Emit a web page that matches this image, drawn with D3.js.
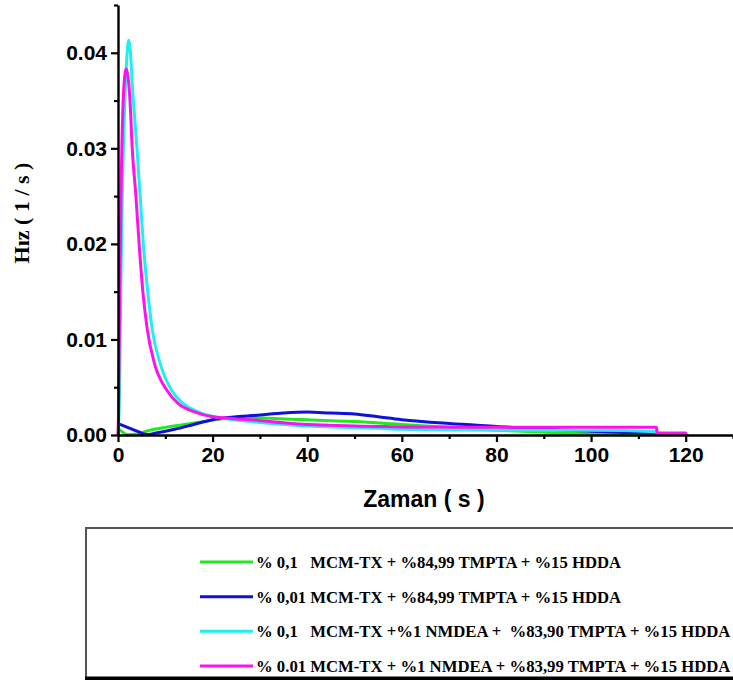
<!DOCTYPE html>
<html>
<head>
<meta charset="utf-8">
<script src="https://cdn.jsdelivr.net/npm/d3@7/dist/d3.min.js"></script>
<style>
  html, body { margin: 0; padding: 0; background: #fff; }
  svg { display: block; }
</style>
</head>
<body>
<svg id="chart" width="733" height="680"></svg>
<script>
// Time points (s) and rate values (1/s) for each formulation
const greenT = [0, 1, 2, 4, 6, 10, 14, 18, 22, 28, 34, 40, 50, 60, 70, 80, 90, 100, 110];
const greenV = [0.0007, 0.0003, 0.00003, 0.0001, 0.0004, 0.0008, 0.0011, 0.0014, 0.0017, 0.0018, 0.0017, 0.0016, 0.0014, 0.0011, 0.0008, 0.0005, 0.0003, 0.0001, 0.0];

const blueT = [0, 2, 4, 6, 8, 12, 16, 20, 25, 30, 35, 40, 45, 50, 55, 60, 70, 80, 90, 100, 110, 114];
const blueV = [0.0012, 0.0008, 0.0004, 0.00005, 0.0002, 0.0006, 0.0011, 0.0016, 0.0019, 0.0021, 0.0023, 0.0024, 0.0023, 0.0022, 0.0019, 0.0016, 0.0012, 0.0009, 0.0006, 0.0004, 0.0002, 0.0001];

const cyanT = [0, 0.3, 0.57, 0.9, 1.48, 2.3, 3.2, 4.0, 4.7, 5.4, 6.4, 7.25, 8.9, 11.3, 13.8, 17, 20.5, 28, 38, 55, 60, 80, 100, 113.8, 114];
const cyanV = [0, 0.004, 0.0145, 0.0249, 0.0353, 0.0413, 0.0353, 0.0301, 0.0249, 0.0197, 0.0145, 0.011, 0.0075, 0.0047, 0.0033, 0.0024, 0.0019, 0.0014, 0.0010, 0.0007, 0.0006, 0.0005, 0.0005, 0.00035, 0];

const magT = [0, 0.1, 0.35, 0.63, 1.12, 1.7, 2.5, 3.0, 3.8, 4.5, 5.35, 6.2, 7.7, 10.3, 12.7, 16.3, 20, 28, 38, 55, 60, 80, 100, 113.8, 114, 120, 120.2];
const magV = [0, 0.002, 0.0145, 0.0249, 0.0353, 0.0383, 0.0353, 0.0301, 0.0249, 0.0197, 0.0145, 0.011, 0.0075, 0.0047, 0.0033, 0.0024, 0.0019, 0.0016, 0.00115, 0.0009, 0.00084, 0.0008, 0.0008, 0.0008, 0.0002, 0.0002, 0];

const seriesLabels = [
  "% 0,1   MCM-TX + %84,99 TMPTA + %15 HDDA",
  "% 0,01 MCM-TX + %84,99 TMPTA + %15 HDDA",
  "% 0,1   MCM-TX +%1 NMDEA +  %83,90 TMPTA + %15 HDDA",
  "% 0.01 MCM-TX + %1 NMDEA + %83,99 TMPTA + %15 HDDA"
];
const seriesColors = ["#22e822", "#1010dd", "#22eeee", "#ff11ee"];

const xTicks = [0, 20, 40, 60, 80, 100, 120];
const yTicks = [0, 0.01, 0.02, 0.03, 0.04];
const xLabel = "Zaman ( s )";
const yLabel = "Hız ( 1 / s )";

const series = [
  { t: greenT, v: greenV },
  { t: blueT, v: blueV },
  { t: cyanT, v: cyanV },
  { t: magT, v: magV }
].map((s, i) => ({
  label: seriesLabels[i],
  color: seriesColors[i],
  pts: s.t.map((t, j) => [t, s.v[j]])
}));

const svg = d3.select("#chart");

const x = d3.scaleLinear().domain([0, 130]).range([118, 733]);
const y = d3.scaleLinear().domain([0, 0.045]).range([435, 5]);

// Curves (drawn first so axes sit on top)
const line = d3.line()
  .x(d => x(d[0]))
  .y(d => y(d[1]))
  .curve(d3.curveMonotoneX);

svg.append("g")
  .selectAll("path")
  .data(series)
  .join("path")
  .attr("d", d => line(d.pts))
  .attr("fill", "none")
  .attr("stroke", d => d.color)
  .attr("stroke-width", 3)
  .attr("stroke-linejoin", "round");

// X axis: major ticks with labels, minor ticks between
const xAxis = svg.append("g").attr("transform", "translate(0,435)");
xAxis.call(d3.axisBottom(x).tickValues(xTicks).tickFormat(d3.format("d")).tickSize(7).tickSizeOuter(0));
svg.append("g").attr("transform", "translate(0,435)")
  .call(d3.axisBottom(x).tickValues(d3.range(10, 131, 20)).tickFormat("").tickSize(4).tickSizeOuter(0))
  .select(".domain").remove();

// Y axis
const yAxis = svg.append("g").attr("transform", "translate(118,0)");
yAxis.call(d3.axisLeft(y).tickValues(yTicks).tickFormat(d3.format(".2f")).tickSize(7).tickSizeOuter(0));
svg.append("g").attr("transform", "translate(118,0)")
  .call(d3.axisLeft(y).tickValues([0.005, 0.015, 0.025, 0.035, 0.045]).tickFormat("").tickSize(4).tickSizeOuter(0))
  .select(".domain").remove();

svg.selectAll(".domain").attr("stroke", "#000").attr("stroke-width", 2.4);
svg.selectAll(".tick line").attr("stroke", "#000").attr("stroke-width", 2.2);
svg.selectAll(".tick text")
  .attr("font-family", "Liberation Sans, Arial, sans-serif")
  .attr("font-weight", "bold")
  .attr("font-size", 21)
  .attr("fill", "#000");
xAxis.selectAll(".tick text").attr("dy", "0.85em").attr("y", 9);
yAxis.selectAll(".tick text").attr("x", -11);

// Axis titles
svg.append("text")
  .attr("x", 424).attr("y", 507)
  .attr("text-anchor", "middle")
  .attr("font-family", "Liberation Sans, Arial, sans-serif")
  .attr("font-weight", "bold")
  .attr("font-size", 23)
  .text(xLabel);

svg.append("text")
  .attr("transform", "translate(29,213) rotate(-90)")
  .attr("text-anchor", "middle")
  .attr("font-family", "Liberation Serif, Times New Roman, serif")
  .attr("font-weight", "bold")
  .attr("font-size", 22)
  .text(yLabel);

// Legend box
const lg = svg.append("g");
lg.append("line").attr("x1", 86).attr("x2", 733).attr("y1", 528).attr("y2", 528)
  .attr("stroke", "#555").attr("stroke-width", 2);
lg.append("line").attr("x1", 86).attr("x2", 86).attr("y1", 527).attr("y2", 680)
  .attr("stroke", "#555").attr("stroke-width", 2);
lg.append("line").attr("x1", 85).attr("x2", 733).attr("y1", 678.5).attr("y2", 678.5)
  .attr("stroke", "#000").attr("stroke-width", 4);

const rowY = d3.scalePoint().domain(d3.range(series.length)).range([562, 666]);
const rows = lg.selectAll("g.row").data(series).join("g")
  .attr("class", "row")
  .attr("transform", (d, i) => `translate(0,${rowY(i)})`);
rows.append("line")
  .attr("x1", 200).attr("x2", 253)
  .attr("stroke", d => d.color).attr("stroke-width", 3);
rows.append("text")
  .attr("x", 256).attr("dy", "0.35em")
  .attr("font-family", "Liberation Serif, Times New Roman, serif")
  .attr("font-weight", "bold")
  .attr("font-size", 16.7)
  .style("white-space", "pre")
  .text(d => d.label);
</script>
</body>
</html>
